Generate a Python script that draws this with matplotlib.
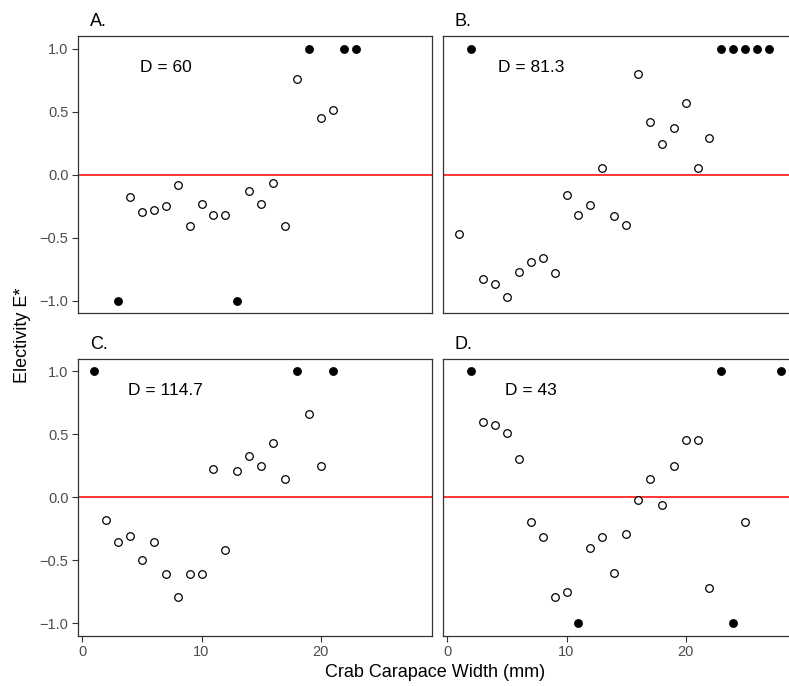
import matplotlib
matplotlib.use("Agg")
import matplotlib.pyplot as plt
import numpy as np

plt.rcParams["font.family"] = ["Liberation Sans", "DejaVu Sans"]

# panel data: crab carapace width (mm) vs electivity E*
x_a = [3, 4, 5, 6, 7, 8, 9, 10, 11, 12, 13, 14, 15, 16, 17, 18, 19, 20, 21, 22, 23]
y_a = [-1.0, -0.18, -0.30, -0.28, -0.25, -0.08, -0.41, -0.23, -0.32, -0.32, -1.0,
       -0.13, -0.23, -0.07, -0.41, 0.76, 1.0, 0.45, 0.51, 1.0, 1.0]

x_b = [1, 2, 3, 4, 5, 6, 7, 8, 9, 10, 11, 12, 13, 14, 15, 16, 17, 18, 19, 20, 21, 22,
       23, 24, 25, 26, 27]
y_b = [-0.47, 1.0, -0.83, -0.87, -0.97, -0.77, -0.69, -0.66, -0.78, -0.16, -0.32, -0.24,
       0.05, -0.33, -0.40, 0.80, 0.42, 0.24, 0.37, 0.57, 0.05, 0.29,
       1.0, 1.0, 1.0, 1.0, 1.0]

x_c = [1, 2, 3, 4, 5, 6, 7, 8, 9, 10, 11, 12, 13, 14, 15, 16, 17, 18, 19, 20, 21]
y_c = [1.0, -0.18, -0.36, -0.31, -0.50, -0.36, -0.61, -0.79, -0.61, -0.61, 0.22, -0.42,
       0.21, 0.33, 0.25, 0.43, 0.14, 1.0, 0.66, 0.25, 1.0]

x_d = [2, 3, 4, 5, 6, 7, 8, 9, 10, 11, 12, 13, 14, 15, 16, 17, 18, 19, 20, 21, 22,
       23, 24, 25, 28]
y_d = [1.0, 0.60, 0.57, 0.51, 0.30, -0.20, -0.32, -0.79, -0.75, -1.0, -0.40, -0.32,
       -0.60, -0.29, -0.02, 0.14, -0.06, 0.25, 0.45, 0.45, -0.72,
       1.0, -1.0, -0.20, 1.0]

labels = ["A.", "B.", "C.", "D."]
d_values = ["D = 60", "D = 81.3", "D = 114.7", "D = 43"]
xs = [x_a, x_b, x_c, x_d]
ys = [y_a, y_b, y_c, y_d]

W, H = 789, 686
fig = plt.figure(figsize=(W / 100, H / 100), dpi=100)

px_w = 353.7
lefts = [78.3, 443.3]
tops = [36.0, 358.5]
px_h = 277.2

grey = "#4D4D4D"
for i in range(4):
    r, c = divmod(i, 2)
    l = lefts[c] / W
    b = 1 - (tops[r] + px_h) / H
    ax = fig.add_axes([l, b, px_w / W, px_h / H])
    x = np.array(xs[i])
    y = np.array(ys[i])
    filled = np.abs(y) == 1.0
    ax.axhline(0, color="#FF0000", lw=1.1, zorder=1)
    ax.scatter(x[~filled], y[~filled], s=30, facecolor="white", edgecolor="black",
               linewidth=0.9, zorder=3)
    ax.scatter(x[filled], y[filled], s=34, facecolor="black", edgecolor="black",
               linewidth=0.5, zorder=3)
    ax.text(7, 0.85, d_values[i], ha="center", va="center", fontsize=12.5, color="black")
    ax.set_xlim(-0.35, 29.35)
    ax.set_ylim(-1.1, 1.1)
    ax.set_xticks([0, 10, 20])
    ax.set_yticks([-1.0, -0.5, 0.0, 0.5, 1.0])
    ax.set_yticklabels(["\u22121.0", "\u22120.5", "0.0", "0.5", "1.0"])
    for s in ax.spines.values():
        s.set_color("#333333")
        s.set_linewidth(0.9)
    ax.tick_params(direction="out", length=4, width=0.8, color="#333333",
                   labelsize=10.5, labelcolor=grey, pad=3)
    if c == 1:
        ax.tick_params(axis="y", left=False, labelleft=False)
    if r == 0:
        ax.tick_params(axis="x", bottom=False, labelbottom=False)
    fig.text((lefts[c] + 11.5) / W, 1 - (tops[r] - 10) / H, labels[i],
             ha="left", va="baseline", fontsize=13)

fig.text(435 / W, 1 - 672.5 / H, "Crab Carapace Width (mm)", ha="center", va="center",
         fontsize=13)
fig.text(23 / W, 1 - 335.7 / H, "Electivity E*", ha="center", va="center",
         rotation=90, fontsize=13)

fig.savefig("out.png", dpi=100)
